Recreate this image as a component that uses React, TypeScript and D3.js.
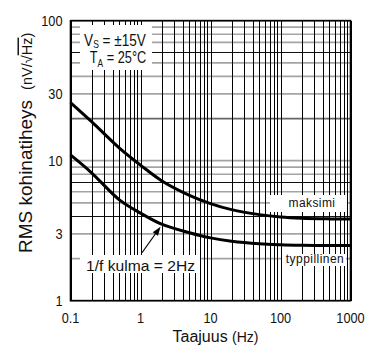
import React, { useEffect, useRef } from "react";
import * as d3 from "d3";

// frequency (Hz) and noise density (nV/√Hz)
const freqs = [0.1, 0.2, 0.5, 1, 2, 5, 10, 20, 50, 100, 200, 500, 1000];
const maxNoise = [26, 19, 12.3, 9.3, 7.2, 5.66, 4.94, 4.47, 4.12, 3.96, 3.88, 3.84, 3.83];
const typNoise = [11, 8.2, 5.25, 4.22, 3.52, 3.06, 2.81, 2.66, 2.55, 2.51, 2.49, 2.48, 2.48];

const xTicks = [0.1, 1, 10, 100, 1000];
const xTickLabels = ["0.1", "1", "10", "100", "1000"];
const yTicks = [1, 3, 10, 30, 100];
const yTickLabels = ["1", "3", "10", "30", "100"];
// horizontal grid lines that print darker in the original
const darkGrid = [4, 7, 60];
const midGrid = [20];

const App: React.FC = () => {
	const ref = useRef<SVGSVGElement>(null);

	useEffect(() => {
		const svg = d3.select(ref.current);
		svg.selectAll("*").remove();

		const left = 70.5, right = 350.5, top = 20.7, bottom = 300.7;
		const font = "'Liberation Sans', Arial, sans-serif";

		const x = d3.scaleLog().domain([0.1, 1000]).range([left, right]);
		const y = d3.scaleLog().domain([1, 100]).range([bottom, top]);

		svg.append("rect").attr("width", 385).attr("height", 359).attr("fill", "white");

		// grid
		const grid = svg.append("g");
		y.ticks().forEach((v) => {
			const dark = darkGrid.includes(v);
			const mid = midGrid.includes(v);
			grid.append("line")
				.attr("x1", left).attr("x2", right)
				.attr("y1", dark ? Math.round(y(v)) + 0.5 : y(v)).attr("y2", dark ? Math.round(y(v)) + 0.5 : y(v))
				.attr("stroke", dark ? "#111" : mid ? "#666" : "#a4a4a4")
				.attr("stroke-width", dark ? 1 : 1.7);
		});
		x.ticks().forEach((v) => {
			const px = Math.round(x(v)) + 0.5;
			grid.append("line")
				.attr("x1", px).attr("x2", px)
				.attr("y1", top).attr("y2", bottom)
				.attr("stroke", "#000")
				.attr("stroke-width", 1)
				.attr("shape-rendering", "crispEdges");
		});

		// white boxes behind annotations
		const boxes = [
			[80, 25, 72, 45],
			[270, 195, 77, 17],
			[282, 254, 64, 12],
			[80, 255, 120, 18],
		];
		boxes.forEach(([bx, by, bw, bh]) => {
			svg.append("rect").attr("x", bx).attr("y", by).attr("width", bw).attr("height", bh).attr("fill", "white");
		});

		// curves
		const line = d3.line<number>()
			.x((_, i) => x(freqs[i]))
			.y((d) => y(d))
			.curve(d3.curveCatmullRom.alpha(0.5));
		[maxNoise, typNoise].forEach((series) => {
			svg.append("path")
				.attr("d", line(series))
				.attr("fill", "none")
				.attr("stroke", "#000")
				.attr("stroke-width", 3);
		});

		// frame
		svg.append("rect")
			.attr("x", left).attr("y", top)
			.attr("width", right - left).attr("height", bottom - top)
			.attr("fill", "none").attr("stroke", "#000").attr("stroke-width", 1.6);

		// condensed text helper
		const ctext = (tx: number, ty: number, size: number, anchor: string, sx = 0.85) =>
			svg.append("text")
				.attr("transform", `translate(${tx},${ty}) scale(${sx},1)`)
				.attr("font-family", font)
				.attr("font-size", size)
				.attr("text-anchor", anchor)
				.attr("fill", "#111");

		// tick labels
		yTicks.forEach((v, i) => {
			ctext(62.5, y(v) + 5.3, 15, "end").text(yTickLabels[i]);
		});
		xTicks.forEach((v, i) => {
			ctext(x(v), 323, 15, "middle").text(xTickLabels[i]);
		});

		// axis titles
		const xt = svg.append("text")
			.attr("x", 172.5).attr("y", 341.5)
			.attr("font-family", font).attr("font-size", 16).attr("fill", "#111");
		xt.append("tspan").text("Taajuus ");
		xt.append("tspan").attr("font-size", 14).text("(Hz)");

		const yt = svg.append("text")
			.attr("transform", "translate(31.5,253) rotate(-90)")
			.attr("font-family", font).attr("font-size", 19).attr("fill", "#111");
		yt.append("tspan").text("RMS kohinatiheys");
		yt.append("tspan").attr("dx", 10).attr("font-size", 14.5).text("(nV/√");
		yt.append("tspan").attr("font-size", 14.5).style("text-decoration", "overline").text("Hz");
		yt.append("tspan").attr("font-size", 14.5).text(")");

		// conditions box
		const t1 = ctext(115, 45.5, 16, "middle");
		t1.append("tspan").text("V");
		t1.append("tspan").attr("dy", 2.5).attr("font-size", 10).text("S");
		t1.append("tspan").attr("dy", -2.5).text(" = ±15V");
		const t2 = ctext(118, 63.3, 16, "middle", 0.8);
		t2.append("tspan").text("T");
		t2.append("tspan").attr("dy", 3.5).attr("font-size", 10.5).text("A");
		t2.append("tspan").attr("dy", -3.5).text(" = 25°C");

		// curve labels
		svg.append("text")
			.attr("x", 312).attr("y", 206.5)
			.attr("font-family", font).attr("font-size", 12).attr("letter-spacing", 0.4)
			.attr("text-anchor", "middle").attr("fill", "#111")
			.text("maksimi");
		svg.append("text")
			.attr("x", 315).attr("y", 262.5)
			.attr("font-family", font).attr("font-size", 12).attr("letter-spacing", 0.45)
			.attr("text-anchor", "middle").attr("fill", "#111")
			.text("typpillinen");

		svg.append("text")
			.attr("x", 86).attr("y", 270.7)
			.attr("font-family", font).attr("font-size", 15)
			.attr("textLength", 109).attr("lengthAdjust", "spacingAndGlyphs")
			.attr("fill", "#111")
			.text("1/f kulma = 2Hz");

		// arrow to the 1/f corner on the typical curve
		const tip: [number, number] = [x(2) - 1, y(3.52) + 2.5];
		const tail: [number, number] = [x(1.05), y(2.2)];
		const ang = Math.atan2(tip[1] - tail[1], tip[0] - tail[0]);
		const hl = 9, hw = 3.2;
		const bx = tip[0] - hl * Math.cos(ang), by = tip[1] - hl * Math.sin(ang);
		svg.append("line")
			.attr("x1", tail[0]).attr("y1", tail[1])
			.attr("x2", bx).attr("y2", by)
			.attr("stroke", "#000").attr("stroke-width", 1.2);
		svg.append("path")
			.attr("d", `M${tip[0]},${tip[1]}L${bx + hw * Math.sin(ang)},${by - hw * Math.cos(ang)}L${bx - hw * Math.sin(ang)},${by + hw * Math.cos(ang)}Z`)
			.attr("fill", "#000");
	}, []);

	return (
		<svg
			ref={ref}
			width={385}
			height={359}
			style={{ position: "absolute", left: 0, top: 0 }}
		/>
	);
};

export default App;
